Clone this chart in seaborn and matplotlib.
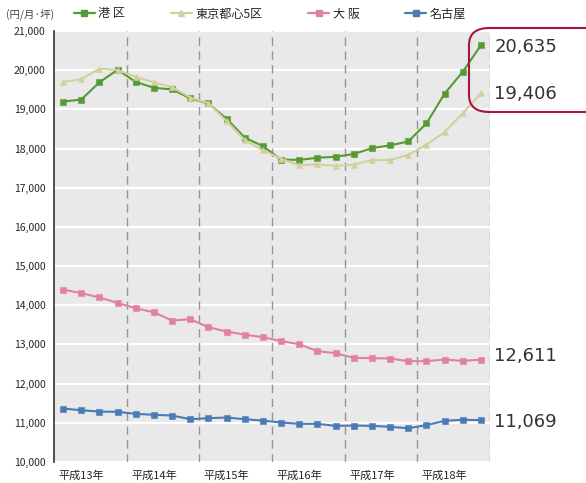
import numpy as np
import pandas as pd
import matplotlib
matplotlib.use("Agg")
import matplotlib.pyplot as plt
from matplotlib.patches import FancyBboxPatch
import seaborn as sns

# Average office rent by area, quarterly (円/月·坪)
years = ["平成13年", "平成14年", "平成15年", "平成16年", "平成17年", "平成18年"]
quarters_per_year = 4

minato = [19200, 19250, 19690, 20010, 19700, 19550, 19510, 19280,
          19150, 18760, 18280, 18060, 17720, 17710, 17765, 17790,
          17860, 18010, 18080, 18180, 18640, 19400, 19960, 20635]
tokyo5 = [19700, 19770, 20040, 20000, 19830, 19690, 19570, 19300,
          19160, 18700, 18220, 17955, 17740, 17570, 17595, 17560,
          17590, 17705, 17705, 17840, 18095, 18420, 18900, 19406]
osaka = [14400, 14310, 14200, 14060, 13925, 13820, 13610, 13645,
         13440, 13330, 13250, 13187, 13085, 13008, 12828, 12777,
         12658, 12650, 12641, 12573, 12573, 12616, 12581, 12611]
nagoya = [11364, 11320, 11288, 11280, 11229, 11204, 11186, 11092,
          11118, 11135, 11092, 11055, 11008, 10974, 10974, 10923,
          10931, 10923, 10897, 10863, 10940, 11051, 11077, 11069]

series_names = ["港 区", "東京都心5区", "大 阪", "名古屋"]
series_values = [minato, tokyo5, osaka, nagoya]
end_labels = ["20,635", "19,406", "12,611", "11,069"]
end_label_nudge = [-1.5, -0.5, 3, -1]   # vertical nudge of end labels, in points

colors = ["#559a34", "#d2d09c", "#e2819f", "#4a7bb5"]
markers = ["s", "^", "s", "s"]

sns.set_theme(style="white")
plt.rcParams["font.family"] = ["Noto Sans CJK JP", "DejaVu Sans"]

n = len(minato)
rows = []
for name, vals in zip(series_names, series_values):
    for i, v in enumerate(vals):
        rows.append({"period": i, "rent": v, "area": name})
df = pd.DataFrame(rows)

fig = plt.figure(figsize=(5.86, 4.83), dpi=100)
ax = fig.add_axes([54 / 586, 1 - 462 / 483, (490 - 54) / 586, (462 - 31) / 483])
ax.set_facecolor("#e9e9e9")

sns.lineplot(data=df, x="period", y="rent", hue="area", style="area",
             hue_order=series_names, style_order=series_names,
             palette=colors, markers=dict(zip(series_names, markers)),
             dashes=False, markersize=5, linewidth=1.5,
             markeredgewidth=0.8, ax=ax, legend=False)
for line, c in zip(ax.lines, colors):
    line.set_markeredgecolor(matplotlib.colors.to_rgba(c, 0.55))

ax.set_xlim(-0.5, n - 0.5)
ax.set_ylim(10000, 21000)
ax.set_yticks(np.arange(10000, 21001, 1000))
ax.set_yticklabels([f"{v:,}" for v in range(10000, 21001, 1000)], fontsize=7.5)
ax.yaxis.grid(True, color="white", linewidth=1.6)
ax.set_axisbelow(True)

# year separators
for k in range(1, len(years) + 1):
    ax.axvline(k * quarters_per_year - 0.5, color="#959595", linewidth=1.0,
               linestyle=(0, (6, 4)), zorder=1)

ax.set_xticks([k * quarters_per_year + 1 for k in range(len(years))])
ax.set_xticklabels(years, fontsize=8)
ax.tick_params(axis="both", length=0, pad=6)
ax.tick_params(axis="y", pad=6)
ax.set_xlabel("")
ax.set_ylabel("")
for side in ["top", "right", "bottom"]:
    ax.spines[side].set_visible(False)
ax.spines["left"].set_color("#333333")
ax.spines["left"].set_linewidth(1.2)

# legend
handles = [plt.Line2D([], [], color=c, marker=m, markersize=4, linewidth=1.6)
           for c, m in zip(colors, markers)]
fig.legend(handles, series_names, loc="center left",
           bbox_to_anchor=(74 / 586, 1 - 14 / 483), ncol=4, frameon=False,
           fontsize=8.7, handlelength=1.7, handletextpad=0.3,
           columnspacing=3.8, borderaxespad=0, borderpad=0)
fig.text(6 / 586, 1 - 14 / 483, "(円/月·坪)", fontsize=7.5, color="#444444",
         va="center", ha="left")

# end-value labels
for vals, lab, dy in zip(series_values, end_labels, end_label_nudge):
    ax.annotate(lab, xy=(n - 0.5, vals[-1]), xytext=(3, dy),
                textcoords="offset points", fontsize=13, color="#333333",
                va="center", ha="left", annotation_clip=False,
                family="DejaVu Sans")

# highlight box around the Tokyo figures
box = FancyBboxPatch((469 / 586, 1 - 112 / 483), (640 - 469) / 586, (112 - 28) / 483,
                     boxstyle="round,pad=0,rounding_size=0.035",
                     transform=fig.transFigure, fill=False,
                     edgecolor="#a5173d", linewidth=1.5, clip_on=False)
fig.add_artist(box)

fig.savefig("out.png", dpi=100)
